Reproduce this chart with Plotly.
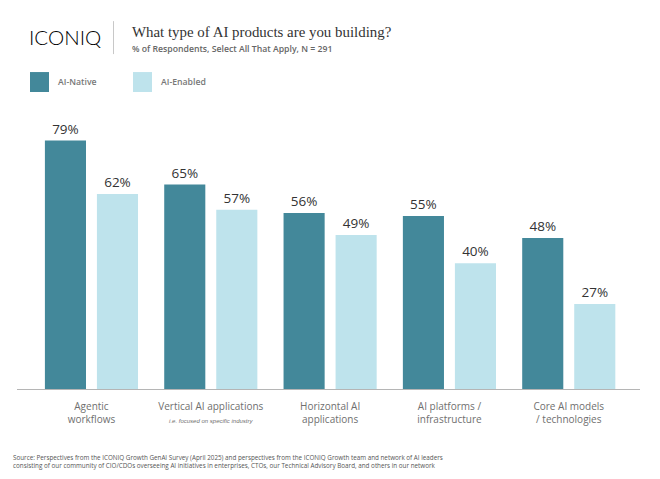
import plotly.graph_objects as go

categories = ["Agentic<br>workflows",
              "Vertical AI applications<br><span style='font-size:6px;font-family:Liberation Sans'><i>i.e. focused on specific industry</i></span>",
              "Horizontal AI<br>applications",
              "AI platforms /<br>infrastructure",
              "Core AI models<br>/ technologies"]
ai_native = [79, 65, 56, 55, 48]
ai_enabled = [62, 57, 49, 40, 27]
NATIVE = "#43889a"
ENABLED = "#bee3ec"
BODY = "Open Sans"
SERIF = "Liberation Serif"

W, H = 660, 479
OFF = 8  # page margin around the figure
LEFT, RIGHT, TOP, BASE = 17, 640, 100, 389.5
def px(x): return (x - LEFT) / (RIGHT - LEFT)
def py(y): return (BASE - y) / (BASE - TOP)

fig = go.Figure()
for name, vals, col in [("AI-Native", ai_native, NATIVE), ("AI-Enabled", ai_enabled, ENABLED)]:
    fig.add_bar(x=categories, y=vals, name=name, marker=dict(color=col, line_width=0),
                text=[f"{v}%" for v in vals], textposition="outside", cliponaxis=False,
                textfont=dict(family=BODY, size=13.5, color="#333333"))

def note(x, y, text, size, color, family=BODY, weight=None):
    font = dict(family=family, size=size, color=color)
    if weight:
        font["weight"] = weight
    fig.add_annotation(xref="paper", yref="paper", x=px(x), y=py(y), text=text, showarrow=False,
                       xanchor="left", yanchor="middle", align="left", font=font)

note(27, 37, "ICONIQ", 20.5, "#000000", "Lato Light, Lato", 300)
note(130, 32, "What type of AI products are you building?", 14.9, "#333333", SERIF)
note(130, 49, "% of Respondents, Select All That Apply, N = 291", 8.7, "#666666", BODY, 600)
note(56, 82, "AI-Native", 8.7, "#777777", BODY, 600)
note(159, 82, "AI-Enabled", 8.7, "#777777", BODY, 600)
note(11, 458, "Source: Perspectives from the ICONIQ Growth GenAI Survey (April 2025) and perspectives from the ICONIQ Growth team and network of AI leaders", 6.3, "#555555")
note(11, 466, "consisting of our community of CIO/CDOs overseeing AI initiatives in enterprises, CTOs, our Technical Advisory Board, and others in our network", 6.3, "#555555")

shapes = [
    dict(type="line", xref="paper", yref="paper", x0=px(113.5), x1=px(113.5), y0=py(21), y1=py(54),
         line=dict(color="#c8c8c8", width=1)),
    dict(type="rect", xref="paper", yref="paper", x0=px(30), x1=px(49), y0=py(72), y1=py(92),
         fillcolor=NATIVE, line_width=0),
    dict(type="rect", xref="paper", yref="paper", x0=px(133), x1=px(152), y0=py(72), y1=py(92),
         fillcolor=ENABLED, line_width=0),
]
fig.update_layout(
    width=W, height=H, autosize=False,
    margin=dict(l=LEFT - OFF, r=W - RIGHT + OFF, t=TOP - OFF, b=H - BASE + OFF),
    paper_bgcolor="white", plot_bgcolor="white", showlegend=False, shapes=shapes,
    barmode="group", bargap=0.128, bargroupgap=0.21,
    xaxis=dict(range=[-0.624, 4.597], showline=True, linecolor="#b5b5b5", linewidth=1, ticks="",
               ticklabelstandoff=8,
               tickfont=dict(family=BODY, size=10, color="#6f6f6f"), fixedrange=True, tickangle=0),
    yaxis=dict(range=[0, 91.9], visible=False, fixedrange=True),
)
fig.write_html("out.html", config={"displayModeBar": False})
